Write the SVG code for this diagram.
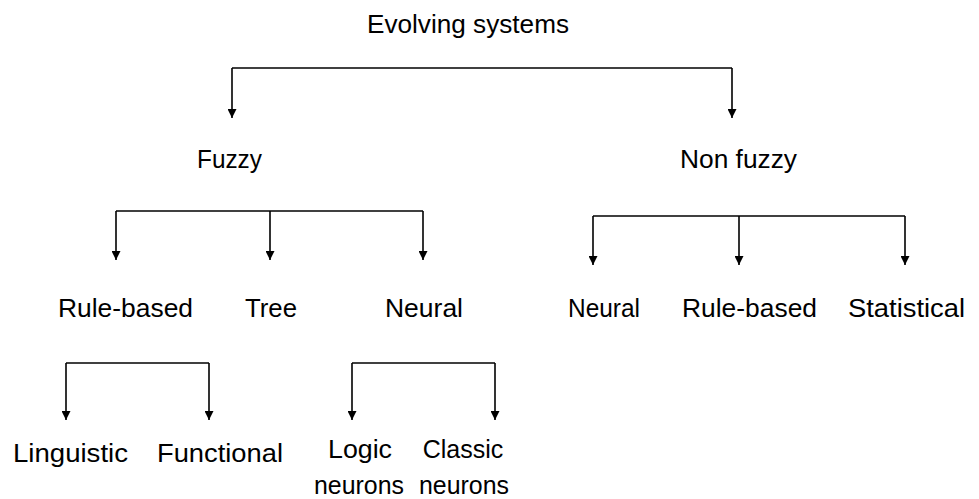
<svg xmlns="http://www.w3.org/2000/svg" width="979" height="499" viewBox="0 0 979 499">
  <style>
    .lbl { font-family: "Liberation Sans", Arial, sans-serif; font-size: 25px; fill: #000; text-anchor: middle; }
    .wire { fill: none; stroke: #000; stroke-width: 1.6; }
    .drop { fill: none; stroke: #000; stroke-width: 1.6; marker-end: url(#tip); }
  </style>
  <defs>
    <marker id="tip" markerUnits="userSpaceOnUse" markerWidth="9" markerHeight="9" refX="9" refY="4.5" orient="auto">
      <path d="M0,0 L9,4.5 L0,9 z" fill="#000"/>
    </marker>
  </defs>
  <rect width="979" height="499" fill="#fff"/>

  <!-- connectors -->
  <g id="connectors">
    <path class="wire" d="M232,68 H732"/>
    <path class="drop" d="M232,68 V118"/>
    <path class="drop" d="M732,68 V118"/>

    <path class="wire" d="M116,211 H423"/>
    <path class="drop" d="M116,211 V260"/>
    <path class="drop" d="M270,211 V260"/>
    <path class="drop" d="M423,211 V260"/>

    <path class="wire" d="M593,216 H905"/>
    <path class="drop" d="M593,216 V265"/>
    <path class="drop" d="M739,216 V265"/>
    <path class="drop" d="M905,216 V265"/>

    <path class="wire" d="M66,363 H209"/>
    <path class="drop" d="M66,363 V420"/>
    <path class="drop" d="M209,363 V420"/>

    <path class="wire" d="M352,363 H495"/>
    <path class="drop" d="M352,363 V420"/>
    <path class="drop" d="M495,363 V420"/>
  </g>

  <!-- nodes -->
  <g id="evolving-systems"><text class="lbl" x="468" y="33" textLength="202" lengthAdjust="spacingAndGlyphs">Evolving systems</text></g>
  <g id="fuzzy"><text class="lbl" x="229.5" y="168" textLength="65" lengthAdjust="spacingAndGlyphs">Fuzzy</text></g>
  <g id="non-fuzzy"><text class="lbl" x="738.5" y="168" textLength="117" lengthAdjust="spacingAndGlyphs">Non fuzzy</text></g>

  <g id="fuzzy-rule-based"><text class="lbl" x="125.5" y="317" textLength="135" lengthAdjust="spacingAndGlyphs">Rule-based</text></g>
  <g id="fuzzy-tree"><text class="lbl" x="271" y="317" textLength="52" lengthAdjust="spacingAndGlyphs">Tree</text></g>
  <g id="fuzzy-neural"><text class="lbl" x="424" y="317" textLength="78" lengthAdjust="spacingAndGlyphs">Neural</text></g>

  <g id="nonfuzzy-neural"><text class="lbl" x="604" y="317" textLength="72" lengthAdjust="spacingAndGlyphs">Neural</text></g>
  <g id="nonfuzzy-rule-based"><text class="lbl" x="749.5" y="317" textLength="135" lengthAdjust="spacingAndGlyphs">Rule-based</text></g>
  <g id="nonfuzzy-statistical"><text class="lbl" x="906.5" y="317" textLength="117" lengthAdjust="spacingAndGlyphs">Statistical</text></g>

  <g id="linguistic"><text class="lbl" x="70.5" y="462" textLength="115" lengthAdjust="spacingAndGlyphs">Linguistic</text></g>
  <g id="functional"><text class="lbl" x="220" y="462" textLength="126" lengthAdjust="spacingAndGlyphs">Functional</text></g>
  <g id="logic-neurons">
    <text class="lbl" x="360" y="458" textLength="64" lengthAdjust="spacingAndGlyphs">Logic</text>
    <text class="lbl" x="359" y="494" textLength="90" lengthAdjust="spacingAndGlyphs">neurons</text>
  </g>
  <g id="classic-neurons">
    <text class="lbl" x="463" y="458">Classic</text>
    <text class="lbl" x="464" y="494" textLength="90" lengthAdjust="spacingAndGlyphs">neurons</text>
  </g>
</svg>
